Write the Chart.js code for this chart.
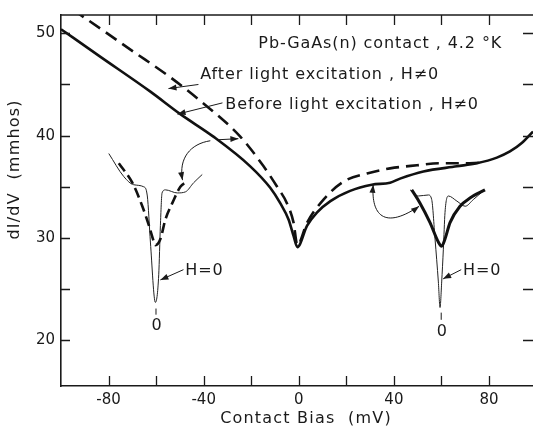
<!DOCTYPE html>
<html lang="en">
<head>
<meta charset="UTF-8">
<title>Pb-GaAs(n) contact dI/dV</title>
<script src="https://cdn.jsdelivr.net/npm/chart.js"></script>
<style>
  html, body { margin: 0; padding: 0; background: #fff; }
</style>
</head>
<body>
<canvas id="chart" width="533" height="429"></canvas>
<script>
// contact bias (mV) and dI/dV (mmhos)
const afterBias = [-95, -91.8, -69.5, -55.2, -41.4, -24.6, -14.8, -9.1, -5.0, -2.2, -0.6, 3.5, 10.4, 18.8, 28.7, 38.4, 49.7, 59.4, 69.2, 76.2];
const afterG    = [52.3, 51.8, 48.2, 45.9, 43.4, 39.9, 37.0, 35.0, 33.4, 31.5, 29.3, 31.5, 33.75, 35.5, 36.3, 36.8, 37.1, 37.3, 37.3, 37.35];

const beforeBias = [-100, -83.4, -62.4, -49.8, -35.9, -20.4, -12.0, -7.8, -4.3, -2.2, -0.6, 3.5, 7.7, 13.3, 21.6, 30.7, 38.4, 42.6, 52.4, 66.5, 74.9, 83.3, 88.8, 93.9, 98.5];
const beforeG    = [50.4, 47.7, 44.3, 42.1, 39.9, 37.0, 34.9, 33.4, 31.8, 30.2, 29.1, 31.2, 32.5, 33.6, 34.6, 35.2, 35.4, 35.8, 36.5, 37.0, 37.3, 37.85, 38.45, 39.3, 40.4];

// magnified dips, drawn in the same frame
const leftDipBias = [-75.7, -70.0, -65.8, -63.0, -60.9, -60.3, -58.2, -56.1, -53.2, -49.8, -47.0];
const leftDipG    = [37.3, 35.4, 33.1, 31.2, 29.6, 29.3, 29.9, 31.8, 33.4, 35.0, 35.5];
const leftZeroBias = [-79.9, -73.6, -69.4, -65.2, -63.7, -62.4, -60.3, -58.9, -58.2, -57.5, -56.1, -51.1, -47.7, -44.2, -40.6];
const leftZeroG    = [38.25, 36.0, 35.2, 35.0, 34.1, 29.6, 23.7, 26.4, 31.2, 34.4, 34.7, 34.4, 34.5, 35.4, 36.2];

const rightDipBias = [47.5, 51.0, 55.2, 58.7, 60.1, 61.5, 63.6, 67.8, 72.0, 78.3];
const rightDipG    = [34.7, 33.4, 31.5, 29.6, 29.2, 29.9, 31.5, 33.1, 33.9, 34.7];
const rightZeroBias = [46.8, 50.3, 54.5, 55.9, 57.3, 58.7, 59.4, 60.1, 60.8, 61.5, 62.9, 66.5, 70.0, 73.4, 77.6];
const rightZeroG    = [34.7, 34.1, 34.2, 33.75, 29.9, 25.7, 23.2, 25.7, 28.9, 32.5, 34.1, 33.6, 33.1, 33.75, 34.6];

const xTickLabels = [-80, -40, 0, 40, 80];
const xTickMarks = [-80, -60, -40, -20, 0, 20, 40, 60, 80];
const yTickLabels = [20, 30, 40, 50];
const yTickMarks = [20, 25, 30, 35, 40, 45, 50];

const xMin = -100, xMax = 98.5, yMin = 15.53, yMax = 51.79;

// labels and arrows, placed in data units
const labels = [
  { text: 'Pb-GaAs(n) contact , 4.2 °K', x: -17.0, y: 48.55 },
  { text: 'After light excitation , H≠0', x: -41.4, y: 45.5 },
  { text: 'Before light excitation , H≠0', x: -30.9, y: 42.6 },
  { text: 'H=0', x: -47.7, y: 26.4 },
  { text: '0', x: -59.6, y: 21.0, align: 'center' },
  { text: 'H=0', x: 69.1, y: 26.4 },
  { text: '0', x: 60.3, y: 20.4, align: 'center' }
];
const arrows = [
  { from: [-42.2, 45.0], to: [-54.8, 44.6] },
  { from: [-32.1, 43.2], to: [-51.0, 42.1] },
  { from: [-33.8, 39.6], to: [-25.4, 39.7] },
  { from: [-37.2, 39.5], c1: [-45.6, 39.2], c2: [-50.6, 37.8], to: [-48.9, 35.65] },
  { from: [-48.5, 26.9], to: [-58.2, 25.9] },
  { from: [30.9, 32.3], c1: [30.9, 32.3], c2: [44.7, 31.3], to: [50.6, 33.1], start: [31.3, 35.2] },
  { from: [68.3, 26.9], to: [60.7, 26.0] }
];
const zeroMarks = [
  { x: -60.05, y1: 23.1, y2: 22.5 },
  { x: 59.9, y1: 22.7, y2: 22.0 }
];

function pts(xs, ys) {
  return xs.map((v, i) => ({ x: v, y: ys[i] }));
}

function arrowHead(ctx, x0, y0, x1, y1) {
  const a = Math.atan2(y1 - y0, x1 - x0);
  const len = 8, w = 3;
  ctx.beginPath();
  ctx.moveTo(x1, y1);
  ctx.lineTo(x1 - len * Math.cos(a) + w * Math.sin(a), y1 - len * Math.sin(a) - w * Math.cos(a));
  ctx.lineTo(x1 - len * Math.cos(a) - w * Math.sin(a), y1 - len * Math.sin(a) + w * Math.cos(a));
  ctx.closePath();
  ctx.fill();
}

const figurePlugin = {
  id: 'figure',
  afterDraw(chart) {
    const { ctx, chartArea: a, scales: { x, y } } = chart;
    const P = p => [x.getPixelForValue(p[0]), y.getPixelForValue(p[1])];
    ctx.save();
    ctx.strokeStyle = '#1a1a1a';
    ctx.fillStyle = '#1a1a1a';

    // top border and inward ticks on all sides
    ctx.lineWidth = 1.5;
    ctx.beginPath();
    ctx.moveTo(a.left, a.top);
    ctx.lineTo(a.right, a.top);
    ctx.stroke();
    ctx.lineWidth = 1.3;
    ctx.beginPath();
    xTickMarks.forEach(v => {
      const X = Math.round(x.getPixelForValue(v)) + 0.5;
      ctx.moveTo(X, a.bottom); ctx.lineTo(X, a.bottom - 10);
      ctx.moveTo(X, a.top); ctx.lineTo(X, a.top + 10);
    });
    yTickMarks.forEach(v => {
      const Y = Math.round(y.getPixelForValue(v)) + 0.5;
      ctx.moveTo(a.left, Y); ctx.lineTo(a.left + 9, Y);
      ctx.moveTo(a.right, Y); ctx.lineTo(a.right - 10, Y);
    });
    ctx.stroke();

    // arrows
    ctx.lineWidth = 1;
    arrows.forEach(ar => {
      const p0 = P(ar.from), p1 = P(ar.to);
      ctx.beginPath();
      if (ar.c1) {
        const c1 = P(ar.c1), c2 = P(ar.c2);
        if (ar.start) {
          const s = P(ar.start);
          ctx.moveTo(s[0], s[1]);
          ctx.bezierCurveTo(s[0] - 2, s[1] + 25, c2[0] - 25, c2[1] + 8, p1[0], p1[1]);
          ctx.stroke();
          arrowHead(ctx, s[0] - 1, s[1] + 10, s[0], s[1]);
          arrowHead(ctx, p1[0] - 8, p1[1] + 6, p1[0], p1[1]);
        } else {
          ctx.moveTo(p0[0], p0[1]);
          ctx.bezierCurveTo(c1[0], c1[1], c2[0], c2[1], p1[0], p1[1]);
          ctx.stroke();
          arrowHead(ctx, c2[0], c2[1], p1[0], p1[1]);
        }
      } else {
        ctx.moveTo(p0[0], p0[1]);
        ctx.lineTo(p1[0], p1[1]);
        ctx.stroke();
        arrowHead(ctx, p0[0], p0[1], p1[0], p1[1]);
      }
    });
    ctx.beginPath();
    zeroMarks.forEach(m => {
      const X = x.getPixelForValue(m.x);
      ctx.moveTo(X, y.getPixelForValue(m.y1));
      ctx.lineTo(X, y.getPixelForValue(m.y2));
    });
    ctx.stroke();

    // text
    ctx.font = '16px "DejaVu Sans"';
    ctx.letterSpacing = '0.9px';
    ctx.textBaseline = 'alphabetic';
    labels.forEach(l => {
      ctx.textAlign = l.align || 'left';
      ctx.fillText(l.text, x.getPixelForValue(l.x), y.getPixelForValue(l.y));
    });

    // axis titles
    ctx.letterSpacing = '1.2px';
    ctx.textAlign = 'center';
    ctx.textBaseline = 'middle';
    ctx.fillText('Contact Bias  (mV)', (a.left + a.right) / 2 + 9, a.bottom + 33);
    ctx.save();
    ctx.translate(a.left - 46, y.getPixelForValue(36.7));
    ctx.rotate(-Math.PI / 2);
    ctx.fillText('dI/dV  (mmhos)', 0, 0);
    ctx.restore();
    ctx.restore();
  }
};

new Chart(document.getElementById('chart'), {
  type: 'line',
  data: {
    datasets: [
      { label: 'After light excitation', data: pts(afterBias, afterG), borderColor: '#111', borderWidth: 2.6, borderDash: [13, 7] },
      { label: 'Before light excitation', data: pts(beforeBias, beforeG), borderColor: '#111', borderWidth: 2.6 },
      { label: 'Left dip, H≠0', data: pts(leftDipBias, leftDipG), borderColor: '#111', borderWidth: 2.6, borderDash: [10, 5] },
      { label: 'Left dip, H=0', data: pts(leftZeroBias, leftZeroG), borderColor: '#222', borderWidth: 1 },
      { label: 'Right dip, H≠0', data: pts(rightDipBias, rightDipG), borderColor: '#111', borderWidth: 3 },
      { label: 'Right dip, H=0', data: pts(rightZeroBias, rightZeroG), borderColor: '#222', borderWidth: 1 }
    ]
  },
  options: {
    responsive: false,
    animation: false,
    devicePixelRatio: 1,
    layout: { padding: { top: 9, right: 0, left: 0, bottom: 0 } },
    elements: {
      point: { radius: 0 },
      line: { cubicInterpolationMode: 'monotone', fill: false }
    },
    plugins: { legend: { display: false }, tooltip: { enabled: false } },
    scales: {
      x: {
        type: 'linear',
        min: xMin,
        max: xMax,
        grid: { display: false, drawTicks: false },
        border: { display: true, color: '#1a1a1a', width: 1.6 },
        ticks: { color: '#1a1a1a', font: { family: 'DejaVu Sans', size: 15 }, padding: 5, maxRotation: 0 },
        afterBuildTicks: s => { s.ticks = xTickLabels.map(v => ({ value: v })); },
        afterFit: s => { s.height = 43; }
      },
      y: {
        type: 'linear',
        min: yMin,
        max: yMax,
        grid: { display: false, drawTicks: false },
        border: { display: true, color: '#1a1a1a', width: 1.6 },
        ticks: { color: '#1a1a1a', font: { family: 'DejaVu Sans', size: 15 }, padding: 6 },
        afterBuildTicks: s => { s.ticks = yTickLabels.map(v => ({ value: v })); },
        afterFit: s => { s.width = 61; }
      }
    }
  },
  plugins: [figurePlugin]
});
</script>
</body>
</html>
